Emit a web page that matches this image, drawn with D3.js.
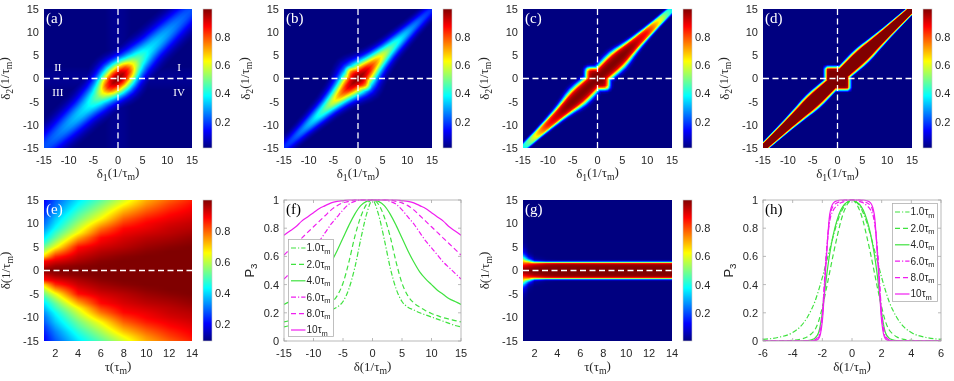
<!DOCTYPE html>
<html><head><meta charset="utf-8">
<script src="https://cdn.jsdelivr.net/npm/d3@7"></script>
<style>
body{margin:0;background:#fff;}
#wrap{position:relative;width:954px;height:381px;overflow:hidden;}
canvas,svg{position:absolute;left:0;top:0;}
</style></head><body>
<div id="wrap"><canvas id="cv" width="954" height="381"></canvas><svg id="sv" width="954" height="381"></svg></div>
<script>
// ---------------- DATA ----------------
// top row maps (a)-(d): values along the diagonal s=(d1+d2)/2, band half-width in d=d2-d1
const sPos = [0,1,2,3,4,5,6,7,8,9,10,11,12,13,14,15];
const aPeak  = [1.0,0.96,0.84,0.64,0.5,0.43,0.38,0.35,0.33,0.31,0.29,0.27,0.25,0.235,0.22,0.21];
const aWidth = [4.4,4.3,4.1,4.0,4.0,4.0,3.9,3.8,3.8,3.8,3.8,3.8,3.8,3.8,3.8,3.8];
const bPeak  = [1.0,0.97,0.9,0.8,0.7,0.6,0.52,0.45,0.4,0.35,0.31,0.27,0.24,0.21,0.19,0.17];
const bWidth = [4.2,4.0,3.6,3.2,2.9,2.7,2.5,2.4,2.3,2.2,2.1,2.0,1.95,1.9,1.85,1.8];
const cPeak  = [1,1,1,1,1,1,0.99,0.97,0.93,0.9,0.86,0.78,0.68,0.57,0.47,0.38];
const cWidth = [2.2,2.3,2.4,2.5,2.5,2.3,2.0,1.75,1.55,1.4,1.25,1.15,1.05,1.0,0.95,0.9];
const dPeak  = [1,1,1,1,1,1,1,1,1,1,1,1,1,1,1,1];
const dWidth = [2.0,2.0,2.1,2.2,2.3,2.3,2.2,2.0,1.85,1.7,1.55,1.45,1.35,1.25,1.15,1.1];
// cross-section shape across the band (r = |d| / width)
const rPos = [0,0.25,0.5,0.75,1,1.25,1.5,1.75,2,2.25,2.5,2.75,3];
const profA = [1,0.94,0.78,0.57,0.37,0.21,0.105,0.047,0.018,0.006,0.002,0,0];
const profB = [1,0.94,0.78,0.57,0.37,0.21,0.105,0.047,0.018,0.006,0.002,0,0];
const profC = [1,0.99,0.96,0.88,0.6,0.3,0.1,0.03,0.01,0,0,0,0];
const profD = [1,1,1,0.99,0.55,0.06,0,0,0,0,0,0,0];
// central single-detuning window (|delta| = 0..6)
const qPos = [0,0.5,1,1.5,2,2.5,3,3.5,4,4.5,5,5.5,6];
const aSq = [1,0.97,0.9,0.78,0.62,0.45,0.32,0.22,0.15,0.1,0.07,0.05,0.03];
const bSq = [1,0.98,0.93,0.85,0.7,0.5,0.3,0.15,0.07,0.03,0.01,0,0];
const cSq = [1,1,0.99,0.95,0.75,0.3,0.06,0.01,0,0,0,0,0];
const dSq = [1,1,1,1,0.97,0.4,0.03,0,0,0,0,0,0];
const topMin = 0.012;

// (e) map: p3 vs tau (columns) and |delta| (rows)
const eDelta = [0,1,2,3,4,5,6,7,8,9,10,11,12,13,14,15];
const eTau = [1,2,4,6,8,10,12,14];
const eT1  = [1,0.93,0.88,0.70,0.60,0.53,0.46,0.41,0.37,0.33,0.30,0.28,0.25,0.23,0.21,0.20];
const eT2  = [1,0.97,0.915,0.85,0.75,0.645,0.58,0.52,0.48,0.435,0.405,0.38,0.35,0.32,0.3,0.28];
const eT4  = [1,0.99,0.96,0.935,0.905,0.875,0.80,0.73,0.655,0.61,0.57,0.53,0.50,0.465,0.435,0.41];
const eT6  = [1,1,0.99,0.97,0.95,0.925,0.9,0.88,0.83,0.78,0.72,0.66,0.62,0.58,0.545,0.51];
const eT8  = [1,1,1,0.99,0.97,0.95,0.935,0.92,0.9,0.88,0.84,0.8,0.755,0.71,0.66,0.62];
const eT10 = [1,1,1,1,0.99,0.975,0.96,0.945,0.925,0.905,0.89,0.865,0.83,0.795,0.76,0.73];
const eT12 = [1,1,1,1,1,0.99,0.975,0.96,0.945,0.935,0.92,0.9,0.88,0.855,0.83,0.80];
const eT14 = [1,1,1,1,1,1,0.99,0.98,0.965,0.95,0.94,0.925,0.91,0.895,0.88,0.86];
const eMin = 0.09;

// (f) curves p3 vs |delta|
const fDelta = [0,1,2,3,4,5,6,7,8,9,10,11,12,13,14,15];
const f1  = [1,0.9,0.72,0.52,0.37,0.28,0.24,0.22,0.2,0.185,0.17,0.155,0.14,0.125,0.11,0.10];
const f2  = [1,0.97,0.88,0.74,0.56,0.41,0.32,0.27,0.24,0.215,0.195,0.18,0.165,0.155,0.145,0.135];
const f4  = [1,0.99,0.96,0.9,0.82,0.73,0.64,0.56,0.49,0.44,0.40,0.36,0.33,0.30,0.28,0.26];
const f6  = [1,1,1,0.99,0.97,0.93,0.88,0.83,0.77,0.71,0.66,0.61,0.56,0.52,0.48,0.44];
const f8  = [1,1,1,1,0.99,0.98,0.96,0.93,0.89,0.85,0.81,0.77,0.73,0.69,0.65,0.61];
const f10 = [1,1,1,1,1,0.995,0.99,0.98,0.96,0.94,0.91,0.88,0.85,0.81,0.78,0.75];

// (g) map
const gDelta = [0,0.5,1,1.25,1.5,1.75,2,2.25,2.5,3,3.5,4,5,6,15];
const gTau = [1,1.5,2,3,4,14];
const gT1  = [1,0.95,0.88,0.83,0.78,0.72,0.66,0.58,0.5,0.33,0.2,0.12,0.05,0.02,0];
const gT15 = [1,0.97,0.92,0.87,0.8,0.68,0.5,0.33,0.2,0.08,0.03,0.01,0,0,0];
const gT2  = [1,0.99,0.95,0.9,0.78,0.5,0.2,0.07,0.03,0.01,0,0,0,0,0];
const gT3  = [1,1,0.98,0.95,0.85,0.45,0.1,0.02,0.005,0,0,0,0,0,0];
const gT4  = [1,1,0.99,0.97,0.86,0.45,0.1,0.01,0,0,0,0,0,0,0];
const gT14 = [1,1,0.99,0.97,0.86,0.45,0.1,0.01,0,0,0,0,0,0,0];
const gMin = 0;

// (h) curves
const hDelta = [0,0.25,0.5,0.75,1,1.25,1.5,1.75,2,2.25,2.5,2.75,3,3.5,4,5,6];
const h1  = [1,0.99,0.96,0.91,0.84,0.75,0.65,0.55,0.45,0.36,0.28,0.22,0.17,0.1,0.06,0.025,0.012];
const h2  = [1,0.98,0.93,0.85,0.74,0.62,0.49,0.36,0.24,0.14,0.08,0.05,0.03,0.012,0.005,0.001,0];
const h4  = [1,0.99,0.97,0.93,0.86,0.76,0.62,0.43,0.2,0.06,0.02,0.008,0.003,0,0,0,0];
const h6  = [1,1,0.99,0.98,0.96,0.93,0.85,0.6,0.2,0.04,0.008,0.002,0,0,0,0,0];
const h8  = [1,1,1,0.99,0.98,0.96,0.88,0.58,0.17,0.025,0.004,0,0,0,0,0,0];
const h10 = [1,1,1,1,0.995,0.98,0.9,0.55,0.14,0.015,0.002,0,0,0,0,0,0];

const legendLabels = ["1.0","2.0","4.0","6.0","8.0","10"];
const cbTicks = [0.2,0.4,0.6,0.8];
const mapTicks = [-15,-10,-5,0,5,10,15];
const tauTicks = [2,4,6,8,10,12,14];
const pTicks = [0,0.2,0.4,0.6,0.8,1];
const hTicks = [-6,-4,-2,0,2,4,6];

// ---------------- DRAWING ----------------
const GREEN = "#3fe23f", MAG = "#f01ef0";
const styles = [
  {c:GREEN, dash:"5,2,1.2,2"},{c:GREEN, dash:"5,3"},{c:GREEN, dash:null},
  {c:MAG, dash:"5,2,1.2,2"},{c:MAG, dash:"5,3"},{c:MAG, dash:null}];
const SANS = "'Liberation Sans', Arial, Helvetica, sans-serif";
const SERIF = "'Liberation Serif', 'Times New Roman', serif";
const TXT = "#262626";

const cv = document.getElementById("cv"), ctx = cv.getContext("2d");
const svg = d3.select("#sv");

function jet(t){
  t = Math.max(0, Math.min(1, t));
  const c = v => Math.round(255*Math.max(0, Math.min(1, v)));
  return `rgb(${c(1.5-Math.abs(4*t-3))},${c(1.5-Math.abs(4*t-2))},${c(1.5-Math.abs(4*t-1))})`;
}
const lin = (xs, ys) => d3.scaleLinear().domain(xs).range(ys).clamp(true);

function addLabel(g, parts, attrs){
  const t = g.append("text");
  Object.entries(attrs).forEach(([k,v]) => t.attr(k,v));
  let shifted = false;
  parts.forEach(p => {
    const ts = t.append("tspan").text(p.t);
    if (p.sub && !shifted){ ts.attr("dy", "0.3em").attr("font-size","75%"); shifted = true; }
    else if (!p.sub && shifted){ ts.attr("dy", "-0.3em"); shifted = false; }
    else if (p.sub) ts.attr("font-size","75%");
  });
  return t;
}

function drawHeat(P, xDom, yDom, fn, vmin){
  const x = d3.scaleLinear().domain(xDom).range([P.L, P.R]);
  const y = d3.scaleLinear().domain(yDom).range([P.B, P.T]);
  const nx = P.R - P.L, ny = P.B - P.T;
  const dx = (xDom[1]-xDom[0])/nx, dy = (yDom[1]-yDom[0])/ny;
  for (let i=0;i<nx;i++){
    const cx = xDom[0] + (i+0.5)*dx;
    const px = Math.round(x(xDom[0] + i*dx));
    for (let j=0;j<ny;j++){
      const cy = yDom[0] + (j+0.5)*dy;
      const py = Math.round(y(yDom[0] + (j+1)*dy));
      ctx.fillStyle = jet((fn(cx,cy) - vmin)/(1 - vmin));
      ctx.fillRect(px, py, 1, 1);
    }
  }
  return {x, y};
}

function colorbar(P, vmin){
  const L = P.R + 11, W = 9;
  const cy = d3.scaleLinear().domain([vmin, 1]).range([P.B, P.T]);
  for (let py = P.T; py < P.B; py++){
    ctx.fillStyle = jet((cy.invert(py+0.5) - vmin)/(1-vmin));
    ctx.fillRect(L, py, W, 1);
  }
  svg.append("rect").attr("x",L).attr("y",P.T).attr("width",W).attr("height",P.B-P.T)
    .attr("fill","none").attr("stroke","#c8c8c8").attr("stroke-width",0.6);
  cbTicks.forEach(v => {
    svg.append("text").attr("x", L+W+3).attr("y", cy(v)).attr("dy","0.36em")
      .attr("font-family",SANS).attr("font-size",11).attr("fill",TXT).text(v.toFixed(1));
  });
}

function axesText(P, x, y, xt, yt, xtitle, ytitle, ytitleOff){
  xt.forEach(v => svg.append("text").attr("x", x(v)).attr("y", P.B+16).attr("text-anchor","middle")
    .attr("font-family",SANS).attr("font-size",11).attr("fill",TXT).text(v));
  yt.forEach(v => svg.append("text").attr("x", P.L-5).attr("y", y(v)).attr("dy","0.36em").attr("text-anchor","end")
    .attr("font-family",SANS).attr("font-size",11).attr("fill",TXT).text(v));
  addLabel(svg, xtitle, {x:(P.L+P.R)/2, y:P.B+30, "text-anchor":"middle", "font-family":SERIF, "font-size":13, fill:TXT});
  const yc = (P.T+P.B)/2, xx = P.L - ytitleOff;
  addLabel(svg, ytitle, {transform:`translate(${xx},${yc}) rotate(-90)`, "text-anchor":"middle", "font-family": ytitle.font||SERIF, "font-size":13, fill:TXT});
}

function panelLabel(P, txt, col){
  svg.append("text").attr("x", P.L+2).attr("y", P.T+14).attr("font-family",SERIF).attr("font-size",15)
    .attr("fill",col).text(txt);
}

const d1T = [{t:"δ"},{t:"1",sub:true},{t:"(1/τ"},{t:"m",sub:true},{t:")"}];
const d2T = [{t:"δ"},{t:"2",sub:true},{t:"(1/τ"},{t:"m",sub:true},{t:")"}];
const dT  = [{t:"δ(1/τ"},{t:"m",sub:true},{t:")"}];
const tT  = [{t:"τ(τ"},{t:"m",sub:true},{t:")"}];
const pT  = [{t:"P"},{t:"3",sub:true}]; pT.font = SANS;

// top row
const topPanels = [
  {L:44, R:192, T:9, B:148, lab:"(a)", P:aPeak, W:aWidth, pr:profA, q:aSq},
  {L:284, R:432, T:9, B:148, lab:"(b)", P:bPeak, W:bWidth, pr:profB, q:bSq},
  {L:523, R:672, T:9, B:148, lab:"(c)", P:cPeak, W:cWidth, pr:profC, q:cSq},
  {L:763, R:912, T:9, B:148, lab:"(d)", P:dPeak, W:dWidth, pr:profD, q:dSq}];

topPanels.forEach(P => {
  const pS = lin(sPos, P.P), wS = lin(sPos, P.W), prS = lin(rPos, P.pr), qS = lin(qPos, P.q);
  const fn = (a,b) => {
    const s = Math.abs((a+b)/2), d = Math.abs(b-a);
    const band = pS(s)*prS(d/wS(s));
    const sq = qS(Math.abs(a))*qS(Math.abs(b));
    return Math.max(topMin, band, sq);
  };
  const {x,y} = drawHeat(P, [-15,15], [-15,15], fn, topMin);
  colorbar(P, topMin);
  axesText(P, x, y, mapTicks, mapTicks, d1T, d2T, 34);
  svg.append("line").attr("x1",x(0)).attr("x2",x(0)).attr("y1",P.T).attr("y2",P.B)
    .attr("stroke","#fff").attr("stroke-width",1.3).attr("stroke-dasharray","6,3.5");
  svg.append("line").attr("x1",P.L).attr("x2",P.R).attr("y1",y(0)).attr("y2",y(0))
    .attr("stroke","#fff").attr("stroke-width",1.3).attr("stroke-dasharray","6,3.5");
  panelLabel(P, P.lab, "#fff");
  if (P.lab === "(a)"){
    [["II",-12.2,1.7],["I",12.4,1.7],["III",-12.2,-3.7],["IV",12.4,-3.7]].forEach(q => {
      svg.append("text").attr("x",x(q[1])).attr("y",y(q[2])).attr("text-anchor","middle")
        .attr("font-family",SERIF).attr("font-size",11).attr("fill","#fff").text(q[0]);
    });
  }
});

function tauMap(P, tauPos, rowsData, dPos, vmin, lab){
  const rows = rowsData.map(r => lin(dPos, r));
  const fn = (tau, del) => {
    let k = d3.bisectRight(tauPos, tau) - 1; k = Math.max(0, Math.min(tauPos.length-2, k));
    const w = (tau - tauPos[k])/(tauPos[k+1]-tauPos[k]);
    const ad = Math.abs(del);
    return rows[k](ad)*(1-w) + rows[k+1](ad)*w;
  };
  const {x,y} = drawHeat(P, [1,14], [-15,15], fn, vmin);
  colorbar(P, vmin);
  axesText(P, x, y, tauTicks, mapTicks, tT, dT, 34);
  svg.append("line").attr("x1",P.L).attr("x2",P.R).attr("y1",y(0)).attr("y2",y(0))
    .attr("stroke","#fff").attr("stroke-width",1.3).attr("stroke-dasharray","6,3.5");
  panelLabel(P, lab, "#fff");
}
tauMap({L:44, R:192, T:200, B:341}, eTau, [eT1,eT2,eT4,eT6,eT8,eT10,eT12,eT14], eDelta, eMin, "(e)");
tauMap({L:523, R:672, T:200, B:341}, gTau, [gT1,gT15,gT2,gT3,gT4,gT14], gDelta, gMin, "(g)");

// line panels
function linePanel(P, xDom, xTicks, xs, curves, lab, leg){
  const x = d3.scaleLinear().domain(xDom).range([P.L, P.R]);
  const y = d3.scaleLinear().domain([0,1]).range([P.B, P.T]);
  const g = svg.append("g");
  const cid = "clip"+lab.replace(/\W/g,"");
  svg.append("clipPath").attr("id",cid).append("rect").attr("x",P.L).attr("y",P.T-2).attr("width",P.R-P.L).attr("height",P.B-P.T+2);
  const line = d3.line().x(d=>x(d[0])).y(d=>y(d[1])).curve(d3.curveMonotoneX);
  curves.forEach((c,i) => {
    const pts = [];
    for (let k=xs.length-1;k>0;k--) pts.push([-xs[k], c[k]]);
    xs.forEach((v,k) => pts.push([v, c[k]]));
    g.append("path").attr("d", line(pts)).attr("fill","none").attr("stroke",styles[i].c)
      .attr("stroke-width",1.2).attr("stroke-dasharray",styles[i].dash).attr("clip-path",`url(#${cid})`);
  });
  const ax = svg.append("g").attr("stroke","#a8a8a8").attr("stroke-width",0.8);
  ax.append("rect").attr("x",P.L).attr("y",P.T).attr("width",P.R-P.L).attr("height",P.B-P.T).attr("fill","none");
  xTicks.forEach(v => { ax.append("line").attr("x1",x(v)).attr("x2",x(v)).attr("y1",P.B).attr("y2",P.B-3);
                        ax.append("line").attr("x1",x(v)).attr("x2",x(v)).attr("y1",P.T).attr("y2",P.T+3); });
  pTicks.forEach(v => { ax.append("line").attr("x1",P.L).attr("x2",P.L+3).attr("y1",y(v)).attr("y2",y(v));
                        ax.append("line").attr("x1",P.R).attr("x2",P.R-3).attr("y1",y(v)).attr("y2",y(v)); });
  axesText(P, x, y, xTicks, pTicks, dT, pT, 30);
  panelLabel(P, lab, "#000");
  const lg = svg.append("g");
  lg.append("rect").attr("x",leg.x).attr("y",leg.y).attr("width",leg.w).attr("height",leg.h)
    .attr("fill","#fff").attr("stroke","#b0b0b0").attr("stroke-width",0.8);
  legendLabels.forEach((t,i) => {
    const yy = leg.y + 8.5 + i*leg.step;
    lg.append("line").attr("x1",leg.x+2.5).attr("x2",leg.x+17).attr("y1",yy).attr("y2",yy)
      .attr("stroke",styles[i].c).attr("stroke-width",1.2).attr("stroke-dasharray",styles[i].dash);
    addLabel(lg, [{t:t},{t:"τ"},{t:"m",sub:true}], {x:leg.x+18, y:yy, dy:"0.33em", "font-family":SANS, "font-size":10, fill:TXT});
  });
}
linePanel({L:284, R:461, T:200, B:341}, [-15,15], mapTicks, fDelta, [f1,f2,f4,f6,f8,f10], "(f)",
  {x:288.5, y:239.5, w:45, h:97, step:16.4});
linePanel({L:763, R:941, T:200, B:341}, [-6,6], hTicks, hDelta, [h1,h2,h4,h6,h8,h10], "(h)",
  {x:892.5, y:203.5, w:45, h:98, step:16.4});
</script></body></html>
